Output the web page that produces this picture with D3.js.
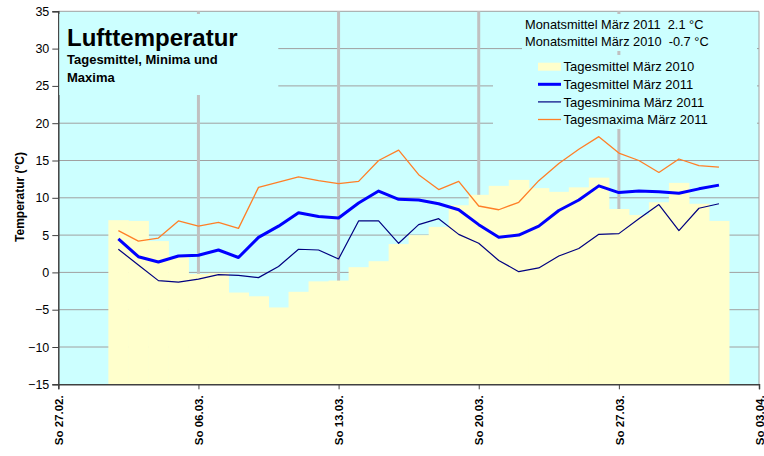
<!DOCTYPE html>
<html>
<head>
<meta charset="utf-8">
<script src="https://cdn.jsdelivr.net/npm/d3@7"></script>
<style>
  body { margin: 0; background: #fff; }
  text { font-family: "Liberation Sans", Arial, sans-serif; fill: #000; }
</style>
</head>
<body>
<script>
// Tagesmittel März 2010 (Säulen)
const mean2010 = [7.0, 6.9, 4.2, 2.1, -0.2, -0.1, -2.7, -3.2, -4.7, -2.6, -1.2, -1.1, 0.7, 1.5, 3.8, 5.0,
  6.1, 9.0, 10.4, 11.6, 12.4, 11.3, 10.8, 11.4, 12.7, 8.5, 7.7, 9.4, 12.0, 9.2, 6.9];
// Tagesmittel März 2011
const mean2011 = [4.5, 2.1, 1.4, 2.2, 2.3, 3.0, 2.0, 4.7, 6.2, 8.0, 7.5, 7.3, 9.3, 10.9, 9.8, 9.7,
  9.2, 8.4, 6.4, 4.7, 5.0, 6.2, 8.3, 9.7, 11.6, 10.7, 10.9, 10.8, 10.6, 11.2, 11.7];
// Tagesminima März 2011
const min2011 = [3.1, 1.0, -1.1, -1.3, -0.9, -0.3, -0.4, -0.7, 0.8, 3.1, 3.0, 1.8, 6.9, 6.9, 3.9, 6.4,
  7.2, 5.1, 3.9, 1.6, 0.1, 0.6, 2.2, 3.2, 5.1, 5.2, 7.2, 9.1, 5.6, 8.6, 9.2];
// Tagesmaxima März 2011
const max2011 = [5.6, 4.2, 4.6, 6.9, 6.2, 6.7, 5.9, 11.4, 12.1, 12.8, 12.3, 11.9, 12.2, 15.0, 16.4, 13.1,
  11.1, 12.2, 8.9, 8.4, 9.4, 12.3, 14.6, 16.5, 18.2, 16.0, 15.0, 13.4, 15.2, 14.3, 14.1];

// Tage im März (Wert gilt bis Tagesende -> Punkt auf Mitternacht danach)
const days = d3.timeDay.range(new Date(2011, 2, 1), new Date(2011, 3, 1));
const yTicks = [-15, -10, -5, 0, 5, 10, 15, 20, 25, 30, 35];
const monthText = ['Monatsmittel März 2011  2.1 °C', 'Monatsmittel März 2010  -0.7 °C'];
const legendItems = [
  { name: 'Tagesmittel März 2010', type: 'bar', color: '#ffffcc' },
  { name: 'Tagesmittel März 2011', type: 'line', color: '#0000ff', width: 3 },
  { name: 'Tagesminima März 2011', type: 'line', color: '#000080', width: 1.2 },
  { name: 'Tagesmaxima März 2011', type: 'line', color: '#ff7f27', width: 1.3 }
];

const W = 764, H = 456;
const plot = { left: 58.3, right: 759, top: 11.3, bottom: 384.3 };

const svg = d3.select('body').append('svg').attr('width', W).attr('height', H);

const x = d3.scaleTime()
  .domain([new Date(2011, 1, 27), new Date(2011, 3, 3)])
  .range([plot.left, plot.right]);
const y = d3.scaleLinear().domain([-15, 35]).range([plot.bottom, plot.top]);

const endOfDay = d => d3.timeDay.offset(d, 1);
const xTicks = d3.timeSunday.range(new Date(2011, 1, 27), new Date(2011, 3, 4));

// Hintergrund Zeichenfläche
svg.append('rect')
  .attr('x', plot.left).attr('y', plot.top)
  .attr('width', plot.right - plot.left).attr('height', plot.bottom - plot.top)
  .attr('fill', '#ccffff');

// horizontale Gitterlinien
svg.append('g').selectAll('line').data(yTicks.filter(v => v > -15))
  .join('line')
  .attr('x1', plot.left).attr('x2', plot.right)
  .attr('y1', d => y(d)).attr('y2', d => y(d))
  .attr('stroke', '#a0a0a0').attr('stroke-width', 1);

// vertikale Gitterlinien (Wochen)
svg.append('g').selectAll('line').data(xTicks.slice(1, -1))
  .join('line')
  .attr('x1', d => x(d)).attr('x2', d => x(d))
  .attr('y1', plot.top).attr('y2', plot.bottom)
  .attr('stroke', '#c0c0c0').attr('stroke-width', 3);

// rechter Rand
svg.append('line')
  .attr('x1', plot.right).attr('x2', plot.right)
  .attr('y1', plot.top).attr('y2', plot.bottom)
  .attr('stroke', '#a0a0a0');

// Säulen 2010
const dayW = x(new Date(2011, 2, 2)) - x(new Date(2011, 2, 1));
svg.append('g').selectAll('rect').data(days)
  .join('rect')
  .attr('x', d => x(endOfDay(d)) - dayW / 2)
  .attr('width', dayW + 0.5)
  .attr('y', (d, i) => y(mean2010[i]))
  .attr('height', (d, i) => y(-15) - y(mean2010[i]))
  .attr('fill', '#ffffcc');

// Linien 2011
const lineFor = vals => d3.line()
  .x((d, i) => x(endOfDay(d)))
  .y((d, i) => y(vals[i]));

[[max2011, legendItems[3]], [min2011, legendItems[2]], [mean2011, legendItems[1]]].forEach(([vals, it]) => {
  svg.append('path')
    .datum(days)
    .attr('d', lineFor(vals))
    .attr('fill', 'none')
    .attr('stroke', it.color)
    .attr('stroke-width', it.width)
    .attr('stroke-linejoin', 'round');
});

// Achsen
const yAxis = svg.append('g')
  .attr('transform', `translate(${plot.left},0)`)
  .call(d3.axisLeft(y).tickValues(yTicks).tickSize(6).tickPadding(3));
yAxis.select('.domain').attr('stroke', '#404040').attr('stroke-width', 1.5);
yAxis.selectAll('.tick line').attr('stroke', '#404040');
yAxis.selectAll('.tick text')
  .style('font-family', '"Liberation Sans", Arial, sans-serif')
  .style('font-size', '12.5px')
  .attr('fill', '#000');

const xAxis = svg.append('g')
  .attr('transform', `translate(0,${plot.bottom})`)
  .call(d3.axisBottom(x).tickValues(xTicks).tickSize(5)
    .tickFormat(d => 'So ' + d3.timeFormat('%d.%m.')(d)));
xAxis.select('.domain').attr('stroke', '#404040').attr('stroke-width', 1.5);
xAxis.selectAll('.tick line').attr('stroke', '#404040');
xAxis.selectAll('.tick text')
  .style('font-family', '"Liberation Sans", Arial, sans-serif')
  .style('font-size', '11.5px')
  .style('font-weight', 'bold')
  .attr('fill', '#000')
  .attr('text-anchor', 'end')
  .attr('transform', 'rotate(-90)')
  .attr('x', -11).attr('y', 0).attr('dy', '0.36em');

// y-Achsentitel
svg.append('text')
  .attr('transform', `translate(24,197) rotate(-90)`)
  .attr('text-anchor', 'middle')
  .style('font-size', '12px').style('font-weight', 'bold')
  .text('Temperatur (°C)');

// Titelfeld
svg.append('rect')
  .attr('x', plot.left + 1).attr('y', 14).attr('width', 219).attr('height', 81)
  .attr('fill', '#ccffff');
svg.append('text').attr('x', 67).attr('y', 46)
  .style('font-size', '24px').style('font-weight', 'bold')
  .text('Lufttemperatur');
svg.append('text').attr('x', 67).attr('y', 64.3)
  .style('font-size', '13px').style('font-weight', 'bold')
  .text('Tagesmittel, Minima und');
svg.append('text').attr('x', 67).attr('y', 81.7)
  .style('font-size', '13px').style('font-weight', 'bold')
  .text('Maxima');

// Monatsmittel
svg.append('rect')
  .attr('x', 522).attr('y', 14).attr('width', 235).attr('height', 37)
  .attr('fill', '#ccffff');
svg.append('g').selectAll('text').data(monthText)
  .join('text')
  .attr('x', 525).attr('y', (d, i) => 29 + i * 16.7)
  .style('font-size', '12.8px')
  .style('white-space', 'pre')
  .text(d => d);

// Legende
svg.append('rect')
  .attr('x', 493).attr('y', 55).attr('width', 264).attr('height', 74)
  .attr('fill', '#ccffff');
const lg = svg.append('g').selectAll('g').data(legendItems)
  .join('g')
  .attr('transform', (d, i) => `translate(538,${66.7 + i * 17.6})`);
lg.filter(d => d.type === 'bar').append('rect')
  .attr('x', 0).attr('y', -4).attr('width', 23).attr('height', 8)
  .attr('fill', d => d.color);
lg.filter(d => d.type === 'line').append('line')
  .attr('x1', 0).attr('x2', 23).attr('y1', 0).attr('y2', 0)
  .attr('stroke', d => d.color).attr('stroke-width', d => d.width);
lg.append('text')
  .attr('x', 25.5).attr('dy', '0.36em')
  .style('font-size', '13px')
  .text(d => d.name);
</script>
</body>
</html>
